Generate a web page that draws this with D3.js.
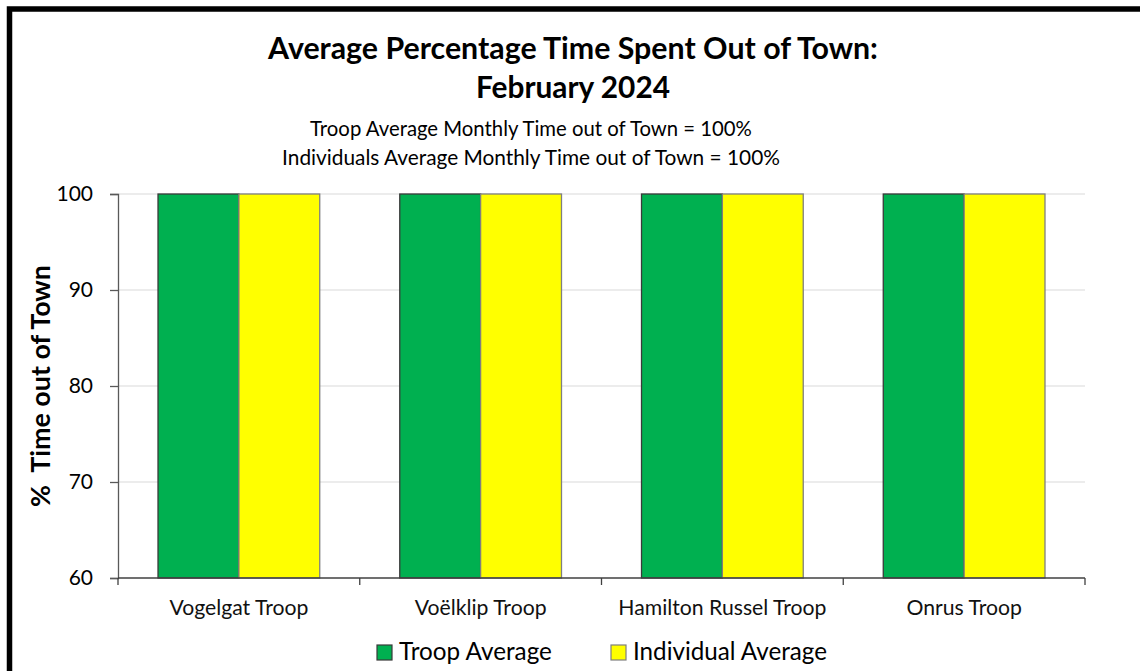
<!DOCTYPE html>
<html><head><meta charset="utf-8">
<script src="https://cdn.jsdelivr.net/npm/d3@7"></script>
<style>html,body{margin:0;padding:0;background:#fff;overflow:hidden}svg{display:block}text{font-family:Lato,"Open Sans",sans-serif}</style>
</head><body>
<script>
const categories = ["Vogelgat Troop", "Voëlklip Troop", "Hamilton Russel Troop", "Onrus Troop"];
const seriesNames = ["Troop Average", "Individual Average"];
const troopAverage = [100, 100, 100, 100];
const individualAverage = [100, 100, 100, 100];
const yTicks = [60, 70, 80, 90, 100];
const titleLines = ["Average Percentage Time Spent Out of Town:", "February 2024"];
const subtitleLines = ["Troop Average Monthly Time out of Town = 100%", "Individuals Average Monthly Time out of Town = 100%"];
const yLabel = "%  Time out of Town";
const colors = ["#00B050", "#FFFF00"];
const strokes = ["#3a3a3a", "#7f7f7f"];

const W = 1140, H = 671;
const svg = d3.select("body").append("svg").attr("width", W).attr("height", H);
svg.append("rect").attr("width", W).attr("height", H).attr("fill", "#fff");
// frame
svg.append("rect").attr("x", 9.5).attr("y", 9).attr("width", 1300).attr("height", 900)
  .attr("fill", "none").attr("stroke", "#000").attr("stroke-width", 5.5);

const pL = 118, pR = 1085, pT = 194, pB = 578;
const x = d3.scaleBand().domain(categories).range([pL, pR]).paddingInner(0.331).paddingOuter(0.1655);
const xs = d3.scaleBand().domain(seriesNames).range([0, x.bandwidth()]).padding(0);
const y = d3.scaleLinear().domain([60, 100]).range([pB, pT]);

function fitText(sel, target) {
  const n = sel.node();
  let fs = parseFloat(sel.attr("font-size"));
  const w = n.getComputedTextLength();
  const nf = fs * target / w;
  sel.attr("font-size", nf.toFixed(2));
  return nf;
}

// gridlines
svg.append("g").selectAll("line").data(yTicks.filter(d => d > 60)).join("line")
  .attr("x1", pL).attr("x2", pR).attr("y1", d => y(d)).attr("y2", d => y(d))
  .attr("stroke", "#d9d9d9").attr("stroke-width", 1.2);

// bars
const data = categories.map((c, i) => ({c, vals: [troopAverage[i], individualAverage[i]]}));
const g = svg.append("g");
data.forEach(d => {
  d.vals.forEach((v, j) => {
    g.append("rect")
      .attr("x", x(d.c) + xs(seriesNames[j]))
      .attr("y", y(v))
      .attr("width", xs.bandwidth())
      .attr("height", y(60) - y(v))
      .attr("fill", colors[j]).attr("stroke", strokes[j]).attr("stroke-width", 1.3);
  });
});

// y axis
const yAxis = d3.axisLeft(y).tickValues(yTicks).tickSize(8).tickPadding(17).tickFormat(d3.format("d"));
const ya = svg.append("g").attr("transform", `translate(${pL},0)`).call(yAxis);
ya.select(".domain").attr("stroke", "#595959").attr("stroke-width", 1.3);
ya.selectAll(".tick line").attr("stroke", "#595959").attr("stroke-width", 1.3);
ya.selectAll(".tick text").attr("font-size", 21).attr("fill", "#000").attr("font-family", "Lato");

// x axis
const bounds = [pL].concat(categories.map(c => x(c) + x.bandwidth() + x.step() * x.paddingInner() / 2));
bounds[bounds.length - 1] = pR;
const xg = svg.append("g");
xg.append("line").attr("x1", pL).attr("x2", pR).attr("y1", pB).attr("y2", pB)
  .attr("stroke", "#404040").attr("stroke-width", 1.4);
xg.selectAll(".bt").data(bounds).join("line").attr("class", "bt")
  .attr("x1", d => d).attr("x2", d => d).attr("y1", pB).attr("y2", pB + 7)
  .attr("stroke", "#404040").attr("stroke-width", 1.3);
const xAxis = d3.axisBottom(x).tickSize(0).tickPadding(0);
const xa = svg.append("g").attr("transform", `translate(0,${pB})`).call(xAxis);
xa.select(".domain").remove();
const xt = xa.selectAll(".tick text").attr("font-size", 17).attr("fill", "#111").attr("dy", null).attr("y", 37);
const xfs = fitText(d3.select(xt.nodes()[0]), 139);
xt.attr("font-size", xfs.toFixed(2));

// title
const tw = [610, 194];
const tb = [59, 98];
titleLines.forEach((t, i) => {
  const s = svg.append("text").attr("x", 573).attr("y", tb[i]).attr("text-anchor", "middle")
    .attr("font-weight", "bold").attr("font-size", 25).attr("fill", "#000").text(t);
  fitText(s, tw[i]);
});
const sw = [442, 498];
const sb = [136, 165];
subtitleLines.forEach((t, i) => {
  const s = svg.append("text").attr("x", 531).attr("y", sb[i]).attr("text-anchor", "middle")
    .attr("font-size", 20).attr("fill", "#000").text(t);
  fitText(s, sw[i]);
});

// y label
const yl = svg.append("text").attr("transform", `translate(50,386) rotate(-90)`).attr("text-anchor", "middle")
  .style("white-space", "pre")
  .attr("font-weight", "bold").attr("font-size", 22).attr("fill", "#000").text(yLabel);
fitText(yl, 242);

// legend
const legX = [377, 611];
const legW = [153, 194];
seriesNames.forEach((n, i) => {
  svg.append("rect").attr("x", legX[i]).attr("y", 645).attr("width", 15).attr("height", 15)
    .attr("fill", colors[i]).attr("stroke", strokes[i]).attr("stroke-width", 1.2);
  const t = svg.append("text").attr("x", legX[i] + 22).attr("y", 660).attr("font-size", 22).attr("fill", "#000").text(n);
  fitText(t, legW[i]);
});
</script>
</body></html>
